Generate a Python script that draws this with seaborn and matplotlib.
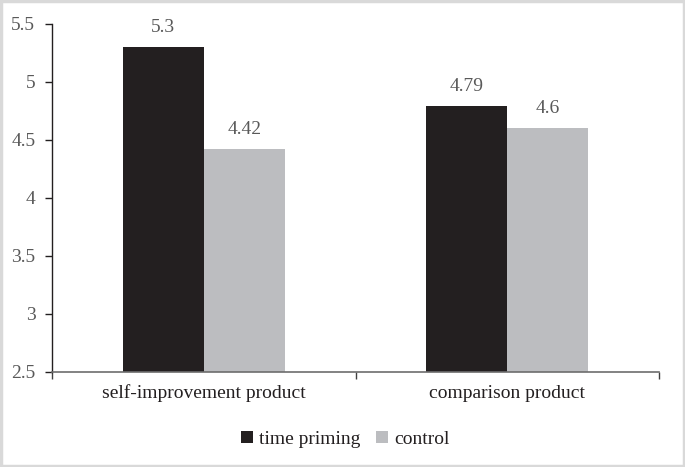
import matplotlib
matplotlib.use("Agg")
import matplotlib.pyplot as plt
import pandas as pd
import seaborn as sns
from matplotlib.patches import Rectangle

# data
categories = ["self-improvement product", "comparison product"]
series = ["time priming", "control"]
time_priming = [5.3, 4.79]
control = [4.42, 4.6]
value_labels = {"time priming": ["5.3", "4.79"], "control": ["4.42", "4.6"]}

df = pd.DataFrame({
    "product": categories * 2,
    "group": [series[0]] * 2 + [series[1]] * 2,
    "value": time_priming + control,
})

sns.set_style("white")
plt.rcParams["font.family"] = ["Liberation Serif", "DejaVu Serif"]
fs = 14

fig = plt.figure(figsize=(6.85, 4.67), dpi=100)
ax = fig.add_axes([52 / 685, 1 - 372 / 467, 607 / 685, 348 / 467])

sns.barplot(data=df, x="product", y="value", hue="group", order=categories,
            hue_order=series, palette=["#231F20", "#BCBDC0"], width=0.534,
            saturation=1, linewidth=0, edgecolor="none", ax=ax, legend=True)

ax.set_ylim(2.5, 5.5)
ax.set_xlim(-0.5, 1.5)
ax.set_yticks([2.5, 3, 3.5, 4, 4.5, 5, 5.5])
ax.set_yticklabels(["2.5", "3", "3.5", "4", "4.5", "5", "5.5"])
ax.set_xlabel("")
ax.set_ylabel("")

# value labels
for cont, s in zip(ax.containers, series):
    ax.bar_label(cont, labels=value_labels[s], padding=8, fontsize=fs, color="#595959")

for side in ["top", "right"]:
    ax.spines[side].set_visible(False)
ax.spines["left"].set_color("#231F20")
ax.spines["bottom"].set_color("#6d6d6d")
ax.spines["left"].set_linewidth(1.0)
ax.spines["bottom"].set_linewidth(1.2)

ax.tick_params(axis="y", direction="out", length=5, width=1, color="#231F20",
               labelsize=fs, labelcolor="#595959", left=True, pad=7)
ax.tick_params(axis="x", which="major", length=0, labelsize=fs,
               labelcolor="#231F20", pad=9)
ax.set_xticks([-0.5, 0.5, 1.5], minor=True)
ax.tick_params(axis="x", which="minor", direction="out", length=5, width=1,
               color="#404040", bottom=True)

leg = ax.legend(loc="upper center", bbox_to_anchor=(0.483, -0.118), ncol=2,
                frameon=False, fontsize=fs, handlelength=0.6, handleheight=0.6,
                handletextpad=0.3, columnspacing=0.85)
for t in leg.get_texts():
    t.set_color("#231F20")

# light border round the whole picture
fig.patches.append(Rectangle((0.002, 0.003), 0.996, 0.994, transform=fig.transFigure,
                             fill=False, edgecolor="#d9d9d9", linewidth=2.5))

fig.savefig("out.png", dpi=100)
